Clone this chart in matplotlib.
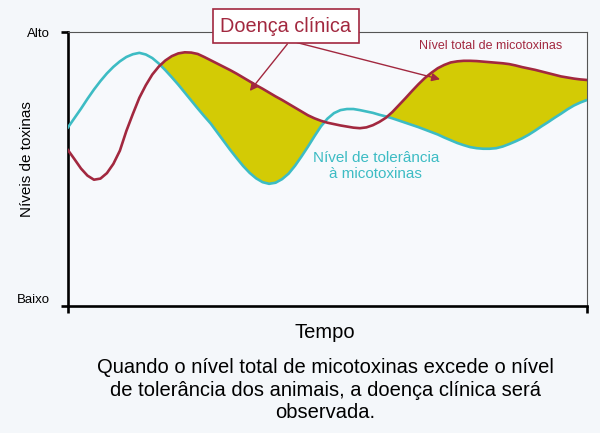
import matplotlib
matplotlib.use("Agg")
import matplotlib.pyplot as plt

plt.rcParams['font.family'] = ['Liberation Sans', 'DejaVu Sans']

# time axis (arbitrary units) shared by both curves
tempo = [0, 1.25, 2.5, 3.75, 5, 6.25, 7.5, 8.75, 10, 11.25,
         12.5, 13.75, 15, 16.25, 17.5, 18.75, 20, 21.25, 22.5, 23.75,
         25, 26.25, 27.5, 28.75, 30, 31.25, 32.5, 33.75, 35, 36.25,
         37.5, 38.75, 40, 41.25, 42.5, 43.75, 45, 46.25, 47.5, 48.75,
         50, 51.25, 52.5, 53.75, 55, 56.25, 57.5, 58.75, 60, 61.25,
         62.5, 63.75, 65, 66.25, 67.5, 68.75, 70, 71.25, 72.5, 73.75,
         75, 76.25, 77.5, 78.75, 80, 81.25, 82.5, 83.75, 85, 86.25,
         87.5, 88.75, 90, 91.25, 92.5, 93.75, 95, 96.25, 97.5, 98.75, 100]

# total mycotoxin level (red)
total = [56.9, 53.6, 50.2, 47.6, 46.1, 46.5, 48.5, 51.9, 56.7, 63.9,
         70.1, 76.0, 80.6, 84.5, 87.4, 89.6, 91.2, 92.2, 92.6, 92.5,
         92.0, 90.9, 89.7, 88.5, 87.3, 86.1, 84.8, 83.4, 82.0, 80.6,
         79.3, 77.9, 76.5, 75.2, 73.8, 72.4, 71.0, 69.6, 68.5, 67.6,
         66.9, 66.4, 65.9, 65.5, 65.1, 64.9, 65.2, 66.0, 67.2, 68.7,
         70.8, 73.3, 75.8, 78.4, 80.9, 83.2, 85.1, 86.8, 88.0, 88.9,
         89.3, 89.5, 89.5, 89.4, 89.2, 89.0, 88.8, 88.6, 88.3, 87.8,
         87.2, 86.7, 86.2, 85.6, 85.0, 84.4, 83.8, 83.4, 83.0, 82.7, 82.5]

# tolerance level (cyan)
tolerancia = [65.2, 68.6, 72.0, 75.6, 79.0, 82.1, 84.9, 87.3, 89.3, 90.9,
              91.9, 92.4, 91.8, 90.5, 88.5, 86.1, 83.5, 80.8, 77.9, 75.0,
              72.1, 69.3, 66.6, 63.4, 60.2, 57.0, 54.0, 51.1, 48.6, 46.6,
              45.2, 44.6, 45.0, 46.3, 48.3, 51.2, 54.6, 58.2, 62.0, 65.6,
              68.4, 70.4, 71.5, 71.9, 71.9, 71.5, 71.0, 70.5, 69.8, 69.2,
              68.5, 67.7, 66.9, 66.1, 65.3, 64.4, 63.5, 62.6, 61.5, 60.5,
              59.5, 58.7, 58.0, 57.6, 57.4, 57.4, 57.6, 58.2, 59.1, 60.1,
              61.2, 62.5, 64.0, 65.6, 67.1, 68.7, 70.2, 71.8, 73.2, 74.3, 75.2]

red = '#a2283f'
cyan = '#3dbcc4'
fill_col = '#d3cb05'

fig = plt.figure(figsize=(6, 4.33), dpi=100, facecolor='#f4f7fa')
ax = fig.add_axes([0.1133, 0.2933, 0.865, 0.6327])
ax.set_facecolor('#f7f9fc')

ax.fill_between(tempo, total, tolerancia, where=[t > c for t, c in zip(total, tolerancia)],
                interpolate=True, color=fill_col, linewidth=0, zorder=1)
ax.plot(tempo, tolerancia, color=cyan, lw=1.9, zorder=3, solid_joinstyle='round')
ax.plot(tempo, total, color=red, lw=1.9, zorder=3, solid_joinstyle='round')

ax.set_xlim(0, 100)
ax.set_ylim(0, 100)

# axes styling
for s in ['left', 'bottom']:
    ax.spines[s].set_linewidth(1.9)
    ax.spines[s].set_color('black')
for s in ['top', 'right']:
    ax.spines[s].set_linewidth(0.8)
    ax.spines[s].set_color('#555555')

ax.set_yticks([0, 100])
ax.set_yticklabels(['Baixo', 'Alto'], fontsize=9.5)
ax.set_xticks([0, 100])
ax.set_xticklabels(['', ''])
ax.tick_params(axis='both', length=5, width=1.9, color='black', pad=8)
ax.get_yticklabels()[0].set_verticalalignment('bottom')

fig.text(0.045, 0.633, 'Níveis de toxinas', fontsize=11, rotation=90,
         ha='center', va='center')
fig.text(0.542, 0.231, 'Tempo', fontsize=14.5, ha='center', va='center')

# curve labels
ax.text(81.5, 94.9, 'Nível total de micotoxinas', color=red, fontsize=9,
        ha='center', va='center')
ax.text(59.3, 51.1, 'Nível de tolerância\nà micotoxinas', color=cyan, fontsize=11,
        ha='center', va='center', linespacing=1.2)

# "Doença clínica" callout with two arrows
ax.text(42.0, 102.2, 'Doença clínica', color=red, fontsize=14.3, ha='center', va='center',
        zorder=6, clip_on=False,
        bbox=dict(boxstyle='square,pad=0.4', facecolor='white', edgecolor=red, linewidth=1.2))
ax.annotate('', xy=(34.7, 77.7), xytext=(42.6, 96.4),
            arrowprops=dict(arrowstyle='-|>', color=red, lw=1.0, mutation_scale=12), zorder=5)
ax.annotate('', xy=(72.2, 82.5), xytext=(43.6, 96.4),
            arrowprops=dict(arrowstyle='-|>', color=red, lw=1.0, mutation_scale=12), zorder=5)

fig.text(0.542, 0.099, 'Quando o nível total de micotoxinas excede o nível\n'
         'de tolerância dos animais, a doença clínica será\nobservada.',
         ha='center', va='center', fontsize=14.5, linespacing=1.23)

fig.savefig('out.png', dpi=100, facecolor=fig.get_facecolor())
